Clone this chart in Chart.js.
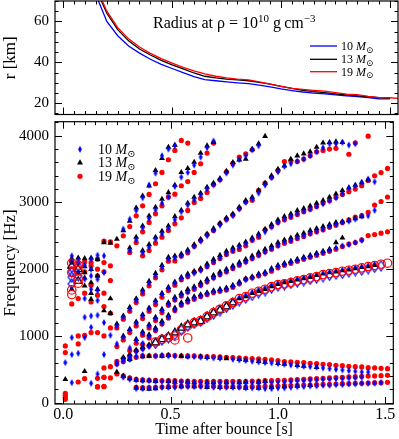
<!DOCTYPE html>
<html lang="en">
<head>
<meta charset="UTF-8">
<title>PNS radius and mode frequencies</title>
<script src="https://cdn.jsdelivr.net/npm/chart.js"></script>
<style>
  html, body { margin: 0; padding: 0; background: #fff; }
  #top { position: absolute; left: 0; top: 0; width: 399px; height: 116px; }
  #bottom { position: absolute; left: 0; top: 116px; width: 399px; height: 323px; }
</style>
</head>
<body>
<div id="top"><canvas id="radiusChart"></canvas></div>
<div id="bottom"><canvas id="freqChart"></canvas></div>
<script>
// ---- data ----
const massLabels = ['10', '13', '19'];
const xMajor = [0, 0.5, 1.0, 1.5];
const rMajor = [20, 40, 60];
const fMajor = [0, 1000, 2000, 3000, 4000];

// radius at rho = 1e10 g/cm3 [km]
const rTime = [0.15, 0.2, 0.25, 0.3, 0.35, 0.4, 0.45, 0.5, 0.55, 0.6, 0.65, 0.7, 0.75, 0.8, 0.85,
  0.9, 0.95, 1.0, 1.05, 1.1, 1.15, 1.2, 1.25, 1.3, 1.35, 1.4, 1.45, 1.5, 1.55];
const rBlue = [73, 60, 53, 48, 44.5, 41.5, 39, 37, 35, 33, 31.6, 31, 30.5, 30, 29.6, 28.9, 28, 27, 26.2, 25.5,
  25, 24.6, 24.1, 23.6, 23.2, 22.8, 22.2, 22.1, null];
const rBlack = [76, 64, 56, 50.5, 46.5, 43.6, 41, 38.8, 36.8, 34.8, 33.2, 32.4, 31.8, 31.4, 31, 30.2, 29.3, 28.3, 27.3, 26.3,
  25.7, 25.2, 24.6, 24.1, 23.6, 23.2, 22.8, 22.4, null];
const rRed = [77, 65, 57, 51.5, 47.5, 44.4, 41.8, 39.6, 37.5, 35.8, 34.4, 33.2, 32.4, 31.8, 31.4, 30.4, 29.4, 28.2, 27.3, 26.8,
  26.3, 25.9, 25.2, 24.5, 24.2, 23.4, 22.8, 22.7, 22.3];

// spectrogram sample times [s]
const T = [0.01, 0.04, 0.07, 0.10, 0.13, 0.16, 0.19, 0.22, 0.25, 0.28, 0.31, 0.34, 0.37, 0.40, 0.43, 0.46,
  0.49, 0.52, 0.55, 0.58, 0.61, 0.64, 0.67, 0.70, 0.73, 0.76, 0.79, 0.82, 0.85, 0.88, 0.91, 0.94, 0.97,
  1.00, 1.03, 1.06, 1.09, 1.12, 1.15, 1.18, 1.21, 1.24, 1.27, 1.30, 1.33, 1.36, 1.39, 1.42, 1.45, 1.48, 1.51];

// 10 Msun (k = index of first sample in T)
const tracks10 = [
  {k: 1, f: [2200, 2140, 2060, 2150, 2210, 2200, null, null, 2600, 2750, 2880, 3070, 3260, 3440, 3700, 3800, 3850]},
  {k: 10, f: [2280, 2440, 2620, 2760, 2890, 2990, 3080, 3240, 3380, 3450, 3560, 3680, 3820, 3920]},
  {k: 12, f: [2250, 2330, 2450, 2530, 2610, 2740, 2860, 2960, 3040, 3110, 3200, 3260, 3340, 3440, 3560, 3640, 3700, 3790, 3850]},
  {k: 8, f: [1150, 1280, 1400, 1530, 1660, 1790, 1900, 2030, 2150, 2170, 2200, 2260, 2340, 2420, 2500, 2580, 2660, 2740, 2800, 2900,
    3000, 3050, 3140, 3260, 3370, 3460, 3540, 3580, 3620, 3650, 3700, 3760, 3820, 3880, 3880, 3900, 3860, 3880]},
  {k: 8, f: [880, 980, 1090, 1190, 1300, 1400, 1510, 1620, 1710, 1790, 1860, 1900, 1940, 1980, 2040, 2110, 2170, 2230, 2280, 2330,
    2380, 2440, 2500, 2560, 2630, 2700, 2750, 2790, 2830, 2870, 2900, 2940, 2980, 3020, 3070, 3130, 3215, 3250, 3300, 3350, 3310]},
  {k: 10, f: [820, 930, 1040, 1150, 1260, 1380, 1470, 1550, 1610, 1660, 1710, 1760, 1820, 1870, 1920, 1970, 2020, 2070, 2110, 2160,
    2210, 2260, 2310, 2360, 2400, 2430, 2470, 2500, 2540, 2570, 2600, 2640, 2670, 2700, 2720, 2750, 2797, 2800, 2882]},
  {k: 12, f: [890, 990, 1090, 1190, 1280, 1390, 1470, 1520, 1560, 1600, 1630, 1660, 1680, 1700, 1740, 1790, 1840, 1870, 1910, 1940,
    1990, 2040, 2070, 2100, 2130, 2160, 2190, 2220, 2250, 2280, 2320, 2350, 2370, 2400, 2430]},
  {k: 8, f: [600, 650, 690, 760, 800, 840]},
  {k: 8, f: [580, 620, 650, 690, 700, null, 700, 710, 700, 700, null, 690, 690, 680, 675, 670, 665, null, 650, 640,
    630, 620, 610, 600, 595, 585, 575, 565, 555, 545, 540, 530, 520, 510, 500, 490, 480, 470, 460, 460]},
  {k: 9, f: [380, 350, 340, 330, 330, 320, 320, 310, 310, 310, 300, 300, 300, 290, 290, 300, 300, 290, 290, 290,
    300, 300, 300, 300, 310, 310, 320, 330, 330, 340, 340, 350, 350, 360, 360, 370, 370, 380]},
  {k: 11, f: [210, 210, 220, 220, 230, 230, 230, 240, 240, 240, 240, 240, 230, 230, 230, 230, 230, 220, 220, 220,
    210, 210, 220, 220, 230, 240, 240, 250, 250, 260, 260, 270, 270, 280, 280, 290, 290, 290, 300]}
];
const open10 = [
  {k: 14, f: [890, 940, 975, 1020, 1090, 1150, 1190, 1220, 1280, 1330, 1380, 1430, 1480, 1530, 1570, 1610, 1650, 1680, 1720, 1750,
    1770, 1790, 1810, 1830, 1850, 1870, 1890, 1910, 1930, 1940, 1960, 1980, 1990, 2010, 2030, 2050]}
];
const early10 = [[0, 600], [1, 300], [1, 720], [1, 975], [1, 2110], [2, 740], [3, 975], [3, 1280], [3, 1560], [3, 1850],
  [4, 290], [4, 1130], [4, 1300], [4, 1700], [4, 1900], [4, 2000], [5, 430], [5, 1310], [5, 1530], [5, 1850], [5, 1680],
  [6, 720], [6, 1200], [6, 1950], [7, 1010]];
const earlyOpen10 = [[1, 2030], [1, 1880], [1, 1780], [2, 2040], [2, 1900], [1, 1960]];

// 13 Msun
const tracks13 = [
  {k: 1, f: [2160, 2170, 2160, 2170, 2150, 2400, 2390, 2450, 2580, 2720, 2920, 3100, 3250, 3480, 3660, 3830, 3860]},
  {k: 10, f: [2320, 2480, 2650, 2800, 2930, 3050, 3150, 3260, 3450, 3510, 3605, 3740, 3850, 3900]},
  {k: 12, f: [2280, 2370, 2480, 2570, 2650, 2790, 2886, 2990, 3080, 3140, 3230, 3290, 3360, 3470, 3600, 3640, 3650, 3800, 3880, 3993]},
  {k: 8, f: [1180, 1300, 1430, 1560, 1690, 1820, 1940, 2060, 2180, 2200, 2230, 2290, 2370, 2450, 2530, 2610, 2690, 2770, 2830, 2930,
    3030, 3080, 3180, 3290, 3400, 3500, 3550, 3650, 3700, 3730, 3760, 3830, 3894, 3900, 3910, 3900]},
  {k: 9, f: [1000, 1100, 1210, 1320, 1420, 1530, 1640, 1730, 1810, 1880, 1930, 1970, 2010, 2080, 2150, 2210, 2270, 2320, 2360, 2410,
    2470, 2530, 2600, 2670, 2740, 2790, 2830, 2880, 2910, 2950, 2990, 3030, 3080, 3130, 3181, 3220, 3260, 3300, 3340]},
  {k: 11, f: [950, 1060, 1170, 1280, 1400, 1500, 1580, 1640, 1700, 1740, 1800, 1850, 1910, 1960, 2000, 2050, 2100, 2150, 2200, 2250,
    2300, 2350, 2400, 2440, 2470, 2510, 2540, 2580, 2610, 2640, 2670, 2700, 2714, 2730, 2760, 2790]},
  {k: 13, f: [1020, 1120, 1220, 1310, 1420, 1500, 1550, 1590, 1620, 1650, 1680, 1700, 1720, 1760, 1810, 1860, 1890, 1930, 1955, 2010,
    2060, 2090, 2120, 2150, 2180, 2210, 2240, 2270, 2300, 2400, 2470]},
  {k: 9, f: [680, 720, 790, 830, 870]},
  {k: 27, f: [1560, 1590, 1640, 1670, 1700, 1740, 1775, 1800, 1820, 1840, 1860, 1880, 1910, 1930, 1950, 1960, 1980, 1990, 2010, 2030,
    2040, 2060]},
  {k: 10, f: [650, null, 690, 700, null, 700, 710, null, 700, 690, null, 690, 680, null, 670, 660, null, 650, 640, null,
    620, 610, null, 590, 580, null, 560, 550, null, 530]},
  {k: 8, f: [460, 400, 360, 340, 330, 330, 320, null, 320, 310, null, 310, 300, null, 300, 300, null, 300, null, 300, 310, null, 310, 320]},
  {k: 11, f: [224, 210, 205, 210, null, 230, null, 240, null, 240, null, 230, null, 230, null, 230, null, 220, null, 220,
    null, 230, null, 240, null, 250, null, 260]}
];
const open13 = [
  {k: 14, f: [900, 950, 990, 1050, 1121, 1170, 1200, 1220, 1290, 1350, 1390, 1440, 1500]}
];
const early13 = [[0, 350], [1, 1700], [2, 1950], [3, 470], [3, 1750], [3, 1870], [3, 1950], [3, 2040], [4, 1550], [4, 1800],
  [4, 2000], [4, 1640], [5, 1700], [5, 1900], [6, 1380], [7, 1340], [7, 1560]];
const earlyOpen13 = [[2, 2000], [2, 1820], [1, 2050]];

// 19 Msun
const tracks19 = [
  {k: 1, f: [2120, 2100, 2110, 2100, 2150, 2420, 2410, 2350, 2500, 2640, 2800, 2950, 3120, 3280, 3450, 3640, 3780, 3930, 3890]},
  {k: 10, f: [2250, 2400, 2560, 2700, 2830, 2950, 3080, 3124, 3250, 3313, 3450, 3580, 3740, 3890]},
  {k: 12, f: [2200, 2280, 2390, 2480, 2580, 2680, 2770, 2880, 3000, 3060, 3150, 3270, 3340, 3460, 3585, 3680, 3730, 3790]},
  {k: 8, f: [1120, 1250, 1370, 1500, 1630, 1750, 1870, 1990, 2120, 2124, 2198, 2248, 2345, 2429, 2518, 2580, 2680, 2750, 2813, 2911,
    3009, 3034, 3181, 3289, 3378, 3476, 3614, 3620, 3614, 3650, 3700, 3760, 3780, 3800, 3811, null, 3722, 3894, null, 3993]},
  {k: 8, f: [840, 940, 1050, 1150, 1260, 1370, 1470, 1580, 1680, 1760, 1840, 1890, 1955, 1990, 2040, 2100, 2160, 2220, 2270, 2296,
    2350, 2434, 2480, 2590, 2640, 2700, 2739, 2780, 2820, 2862, 2900, 2940, 2990, 3030, 3076, 3120, 3160, 3200, 3250, 3330,
    3400, 3447, 3510]},
  {k: 10, f: [780, 890, 1010, 1120, 1230, 1350, 1460, 1540, 1600, 1660, 1700, 1760, 1810, 1870, 1920, 1960, 2010, 2060, 2110, 2160,
    2210, 2260, 2300, 2350, 2390, 2420, 2460, 2490, 2530, 2560, 2590, 2630, 2660, 2700, 2740, 2780, 2802, 2850, 2960, 3014, 3082]},
  {k: 12, f: [870, 970, 1080, 1180, 1270, 1380, 1460, 1510, 1550, 1590, 1620, 1650, 1670, 1690, 1730, 1780, 1850, 1870, 1900, 1930,
    1970, 2020, 2060, 2090, 2120, 2150, 2180, 2210, 2240, 2270, 2300, 2340, 2375, 2400, 2440, 2503, 2520, 2540, 2560]},
  {k: 8, f: [620, 660, 700, 777, 810, 850]},
  {k: 6, f: [520, 540, 580, 615, 650, 680, 700, 703, 700, 705, 713, 705, 700, 700, 700, 695, 690, 690, 685, 680,
    675, 670, 665, 660, 655, 650, 640, 630, 615, 610, 605, 600, 590, 585, 575, 570, 560, 555, 545, 540, 535, 525, 520, 515, 510]},
  {k: 6, f: [380, 370, 430, 400, 370, 350, 340, 335, 335, 330, 330, 330, 325, 325, 320, 320, 320, 320, 320, 320,
    320, 320, 320, 325, 325, 330, 330, 335, 335, 340, 345, 350, 355, 360, 365, 370, 375, 380, 385, 390, 395, 398, 400, 405, 410]},
  {k: 5, f: [236, 245, null, null, null, null, 230, 225, 225, 230, 235, 240, 245, 250, 250, 250, 250, 245, 245, 240,
    240, 240, 235, 235, 240, 240, 245, 245, 250, 255, 255, 260, 265, 265, 270, 275, 275, 280, 285, 285, 290, 290, 295, 300, 300, 305]}
];
const open19 = [
  {k: 14, f: [910, 950, 975, 1000, 1090, 1150, 1200, 1230, 1290, 1350, 1400, 1450, 1500, 1560, 1590, 1640, 1670, 1700, 1740, 1770,
    1780, 1800, 1825, 1845, 1870, 1890, 1920, 1935, 1950, 1970, 1985, 2000, 2020, 2040, 2055, 2075, 2090]}
];
const early19 = [[0, 50], [0, 80], [0, 110], [0, 140], [0, 750], [0, 850], [1, 1480], [1, 2110], [2, 310], [2, 880], [2, 1000],
  [2, 1560], [3, 360], [3, 1640], [3, 1960], [3, 1010], [4, 1050], [4, 1510], [4, 1760], [4, 2050], [5, 240], [5, 365],
  [5, 1050], [5, 1610], [5, 1900], [5, 2000], [6, 240], [6, 380], [6, 1440], [6, 1640], [6, 1960], [6, 2100], [6, 1000],
  [7, 1340], [7, 2050], [7, 1830], [7, 1120]];
const earlyOpen19 = [[1, 2090], [1, 1950], [1, 1690], [1, 1620], [2, 2060], [2, 1850], [2, 1790], [2, 1980], [17, 940], [19, 970]];

// ---- helpers ----
const SERIF = "'Liberation Serif', 'DejaVu Serif', serif";
const BLUE = '#0000ff', RED = '#ff0000', BLACK = '#000000';
const X_MIN = -0.038, X_MAX = 1.537;

function trackPoints(tracks, single) {
  const pts = [];
  tracks.forEach(tr => tr.f.forEach((f, i) => {
    if (f != null && T[tr.k + i] != null) pts.push({x: T[tr.k + i], y: f});
  }));
  single.forEach(([k, f]) => pts.push({x: T[k], y: f}));
  return pts;
}

function diamond(w, h, color, filled) {
  const c = document.createElement('canvas');
  c.width = w + 2; c.height = h + 2;
  const g = c.getContext('2d');
  g.beginPath();
  g.moveTo(c.width / 2, 1); g.lineTo(c.width - 1, c.height / 2);
  g.lineTo(c.width / 2, c.height - 1); g.lineTo(1, c.height / 2); g.closePath();
  if (filled) { g.fillStyle = color; g.fill(); } else { g.strokeStyle = color; g.lineWidth = 1.2; g.stroke(); }
  return c;
}
const blueDiamond = diamond(4, 7, BLUE, true);
const blueDiamondOpen = diamond(7, 10, BLUE, false);

// keep the plot area exactly where we put it (no label overhang padding)
const fixX = h => s => { s.height = h; s.paddingLeft = 0; s.paddingRight = 0; };
const fixY = w => s => { s.width = w; s.paddingTop = 0; s.paddingBottom = 0; };

// inward ticks on all four sides + frame
const frame = {
  id: 'frame',
  afterDatasetsDraw(chart, args, o) {
    const {ctx, chartArea: a, scales: {x, y}} = chart;
    ctx.save();
    ctx.strokeStyle = '#000';
    ctx.lineWidth = 1;
    ctx.beginPath();
    const xt = (v, len) => {
      const p = Math.round(x.getPixelForValue(v)) + 0.5;
      if (p < a.left || p > a.right) return;
      ctx.moveTo(p, a.bottom); ctx.lineTo(p, a.bottom - len);
      ctx.moveTo(p, a.top); ctx.lineTo(p, a.top + len);
    };
    const yt = (v, len) => {
      const p = Math.round(y.getPixelForValue(v)) + 0.5;
      if (p < a.top || p > a.bottom) return;
      ctx.moveTo(a.left, p); ctx.lineTo(a.left + len, p);
      ctx.moveTo(a.right, p); ctx.lineTo(a.right - len, p);
    };
    for (let i = 0; i <= 30; i++) xt(i * 0.05, i % 10 === 0 ? 7 : 3.5);
    for (let v = o.yStart; v <= y.max; v += o.yMinor) {
      yt(v, Math.abs(v % o.yMajor) < 1e-6 ? 7 : 3.5);
    }
    ctx.stroke();
    ctx.lineWidth = 1.2;
    ctx.strokeRect(a.left, a.top, a.right - a.left, a.bottom - a.top);
    ctx.restore();
  }
};

function massText(ctx, x, y, num, size) {
  ctx.textBaseline = 'alphabetic';
  ctx.textAlign = 'left';
  ctx.fillStyle = '#000';
  ctx.font = size + 'px ' + SERIF;
  ctx.fillText(num + ' ', x, y);
  x += ctx.measureText(num + ' ').width;
  ctx.font = 'italic ' + size + 'px ' + SERIF;
  ctx.fillText('M', x, y);
  x += ctx.measureText('M').width;
  ctx.font = Math.round(size * 0.72) + "px 'DejaVu Serif', serif";
  ctx.fillText('\u2299', x, y + size * 0.22);
}

const topText = {
  id: 'topText',
  afterDraw(chart) {
    const ctx = chart.ctx;
    ctx.save();
    ctx.fillStyle = '#000';
    ctx.textBaseline = 'alphabetic';
    let x = 153;
    const y = 28;
    const part = (s, size, dy) => {
      ctx.font = size + 'px ' + SERIF;
      ctx.fillText(s, x, y + dy);
      x += ctx.measureText(s).width;
    };
    part('Radius at \u03c1 = 10', 16, 0);
    part('10', 11, -6);
    part(' g\u2009cm', 16, 0);
    part('\u22123', 11, -6);
    const cols = [BLUE, BLACK, RED];
    const rows = [46, 59.3, 71.7];
    rows.forEach((ry, i) => {
      ctx.strokeStyle = cols[i];
      ctx.lineWidth = 1.3;
      ctx.beginPath(); ctx.moveTo(310, ry); ctx.lineTo(337, ry); ctx.stroke();
      massText(ctx, 341, ry + 4, massLabels[i], 12);
    });
    ctx.restore();
  }
};

const bottomLegend = {
  id: 'bottomLegend',
  afterDraw(chart) {
    const ctx = chart.ctx;
    ctx.save();
    const mx = 80;
    const rows = [33.3, 46.7, 60.3];
    ctx.drawImage(blueDiamond, mx - blueDiamond.width / 2, rows[0] - blueDiamond.height / 2);
    ctx.fillStyle = BLACK;
    ctx.beginPath();
    const r = 3.4;
    for (let j = 0; j < 3; j++) {
      const ang = j * 2 * Math.PI / 3;
      const px = mx + Math.sin(ang) * r, py = rows[1] - Math.cos(ang) * r;
      if (j === 0) ctx.moveTo(px, py); else ctx.lineTo(px, py);
    }
    ctx.closePath(); ctx.fill();
    ctx.fillStyle = RED;
    ctx.beginPath(); ctx.arc(mx, rows[2], 2.6, 0, 2 * Math.PI); ctx.fill();
    rows.forEach((ry, i) => massText(ctx, 98, ry + 4.5, massLabels[i], 14));
    ctx.restore();
  }
};

// ---- top panel: radius ----
const lineSet = (vals, color, order) => ({
  data: rTime.map((t, i) => ({x: t, y: vals[i]})),
  showLine: true, borderColor: color, borderWidth: 1.3, pointRadius: 0, order: order, spanGaps: false
});

new Chart(document.getElementById('radiusChart'), {
  type: 'scatter',
  data: {datasets: [lineSet(rRed, RED, 1), lineSet(rBlack, BLACK, 2), lineSet(rBlue, BLUE, 3)]},
  options: {
    responsive: true, maintainAspectRatio: false, animation: false,
    layout: {padding: {top: 1, right: 1, bottom: 1.5, left: 0}},
    plugins: {legend: {display: false}, tooltip: {enabled: false}, frame: {yStart: 15, yMinor: 5, yMajor: 20}},
    scales: {
      x: {
        type: 'linear', min: X_MIN, max: X_MAX,
        grid: {display: false}, border: {display: false},
        ticks: {display: false},
        afterFit: fixX(0)
      },
      y: {
        min: 14.5, max: 70,
        grid: {display: false, drawTicks: false}, border: {display: false},
        ticks: {color: '#000', padding: 6, font: {family: SERIF, size: 15}, callback: v => String(v)},
        afterBuildTicks: s => { s.ticks = rMajor.map(v => ({value: v})); },
        afterFit: fixY(55),
        title: {display: true, text: 'r [km]', color: '#000', padding: 0, font: {family: SERIF, size: 17}}
      }
    }
  },
  plugins: [frame, topText]
});

// ---- bottom panel: frequencies ----
const triOpts = (pts, filled) => ({
  data: pts, pointStyle: 'triangle', pointRadius: filled ? 3.4 : 4.6,
  backgroundColor: filled ? BLACK : 'rgba(0,0,0,0)', borderColor: BLACK, borderWidth: filled ? 0 : 1.1
});

new Chart(document.getElementById('freqChart'), {
  type: 'scatter',
  data: {
    datasets: [
      {data: trackPoints(open19, earlyOpen19), pointStyle: 'circle', pointRadius: 4.2,
        backgroundColor: 'rgba(0,0,0,0)', borderColor: RED, borderWidth: 1.2, order: 1},
      Object.assign(triOpts(trackPoints(open13, earlyOpen13), false), {order: 2}),
      {data: trackPoints(open10, earlyOpen10), pointStyle: blueDiamondOpen, pointRadius: 4, order: 3},
      {data: trackPoints(tracks10, early10), pointStyle: blueDiamond, pointRadius: 3, order: 4},
      Object.assign(triOpts(trackPoints(tracks13, early13), true), {order: 5}),
      {data: trackPoints(tracks19, early19), pointStyle: 'circle', pointRadius: 2.6,
        backgroundColor: RED, borderWidth: 0, order: 6}
    ]
  },
  options: {
    responsive: true, maintainAspectRatio: false, animation: false,
    layout: {padding: {top: 1, right: 1, bottom: 0, left: 0}},
    plugins: {legend: {display: false}, tooltip: {enabled: false}, frame: {yStart: 0, yMinor: 200, yMajor: 1000}},
    scales: {
      x: {
        type: 'linear', min: X_MIN, max: X_MAX,
        grid: {display: false, drawTicks: false}, border: {display: false},
        ticks: {color: '#000', padding: 1, maxRotation: 0, autoSkip: false, font: {family: SERIF, size: 16},
          callback: v => v.toFixed(1)},
        afterBuildTicks: s => { s.ticks = xMajor.map(v => ({value: v})); },
        afterFit: fixX(35),
        title: {display: true, text: 'Time after bounce [s]', color: '#000', padding: 0, font: {family: SERIF, size: 16}}
      },
      y: {
        min: -20, max: 4210,
        grid: {display: false, drawTicks: false}, border: {display: false},
        ticks: {color: '#000', padding: 6, autoSkip: false, font: {family: SERIF, size: 15}, callback: v => String(v)},
        afterBuildTicks: s => { s.ticks = fMajor.map(v => ({value: v})); },
        afterFit: fixY(55),
        title: {display: true, text: 'Frequency [Hz]', color: '#000', padding: 0, font: {family: SERIF, size: 17}}
      }
    }
  },
  plugins: [frame, bottomLegend]
});
</script>
</body>
</html>
